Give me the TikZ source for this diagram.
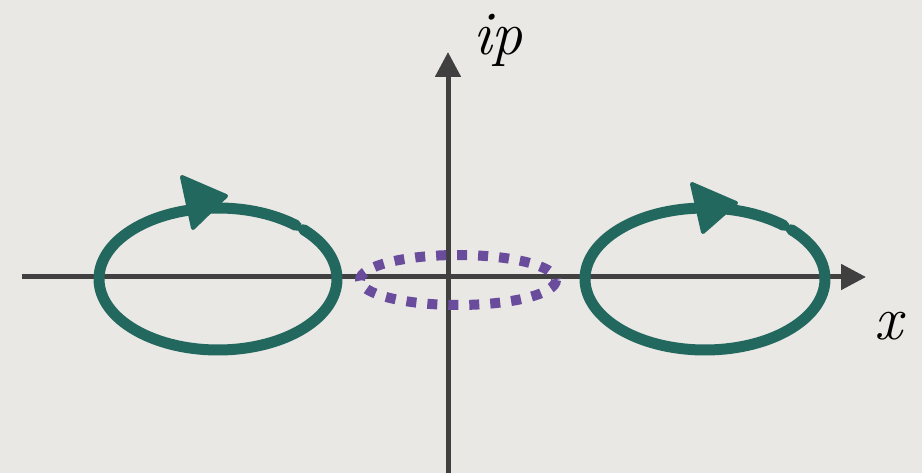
\documentclass[tikz,border=0pt]{standalone}
\usetikzlibrary{arrows.meta}
\definecolor{bg}{HTML}{EAE8E4}
\definecolor{axis}{HTML}{404040}
\definecolor{teal}{HTML}{23685F}
\definecolor{purp}{HTML}{6A4C9C}
\tikzset{
  axisline/.style={draw=axis,line width=5,-{Triangle[length=25,width=25]}},
  loopline/.style={draw=teal,line width=11,line cap=round,line join=round},
  loophead/.style={fill=teal,draw=teal,line width=4,line join=round},
  dotloop/.style={draw=purp,line width=10,dash pattern=on 10 off 11},
  lbl/.style={inner sep=0,font=\fontsize{62}{62}\selectfont\itshape}
}
\begin{document}
\begin{tikzpicture}[x=1pt,y=-1pt]
\fill[bg] (0,0) rectangle (922,473);
\useasboundingbox (0,0) rectangle (922,473);
\coordinate (xl) at (22,277);
\coordinate (xr) at (866,277);
\coordinate (yb) at (448,473);
\coordinate (yt) at (448,52);
\coordinate (cl) at (218,279);
\coordinate (cr) at (705,279);
\coordinate (cm) at (458,280);
% axes
\draw[axisline] (xl) -- (xr);
\draw[axisline] (yb) -- (yt);
% loops
\draw[loopline] (cl) ++(-49:119 and 71) arc[start angle=-49,end angle=-404,x radius=119,y radius=71];
\draw[loopline] (cr) ++(-49:120 and 71) arc[start angle=-49,end angle=-404,x radius=120,y radius=71];
\filldraw[loophead] (182,177) -- (193,228) -- (226,196) -- cycle;
\filldraw[loophead] (692,184) -- (703,232) -- (736,203) -- cycle;
% purple dotted loop
\draw[dotloop] (cm) ellipse[x radius=98,y radius=25];
% labels
\node[lbl,anchor=base] (ip) at (498,55) {ip};
\node[lbl,anchor=base] (xlab) at (888,340) {x};
\end{tikzpicture}
\end{document}
